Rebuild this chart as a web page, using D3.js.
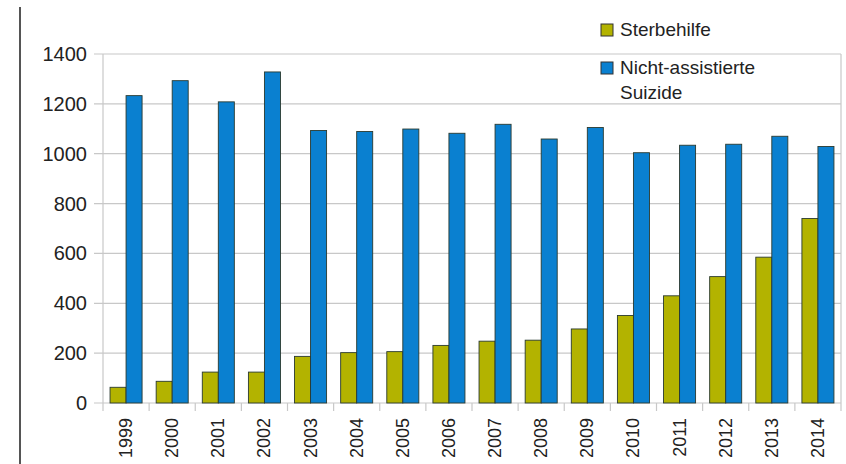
<!DOCTYPE html>
<html><head><meta charset="utf-8">
<script src="https://cdn.jsdelivr.net/npm/d3@7"></script>
<style>body{margin:0;background:#fff}svg{display:block}text{font-family:"Liberation Sans",Arial,sans-serif;fill:#222}</style>
</head><body>
<svg id="c" width="846" height="464"></svg>
<script>
const years = ["1999","2000","2001","2002","2003","2004","2005","2006","2007","2008","2009","2010","2011","2012","2013","2014"];
const sterbehilfe = [63,87,124,124,187,202,206,231,248,252,297,351,430,507,585,740];
const suizide = [1233,1293,1208,1328,1093,1089,1099,1082,1118,1059,1105,1004,1034,1038,1070,1029];
const yTicks = [0,200,400,600,800,1000,1200,1400];
const seriesNames = ["Sterbehilfe", "Nicht-assistierte\nSuizide"];
const colors = ["#b3b300", "#0a80d0"];

const svg = d3.select("#c");
const L = 103, R = 841, T = 54, B = 403;
const x = d3.scaleBand().domain(years).range([L, R]).paddingInner(0).paddingOuter(0);
const inner = d3.scaleBand().domain([0,1]).range([0, x.bandwidth()]).paddingInner(0).paddingOuter(0.44);
const y = d3.scaleLinear().domain([0, 1400]).range([B, T]);

// left vertical line
svg.append("line").attr("x1",20).attr("x2",20).attr("y1",7).attr("y2",464).attr("stroke","#555").attr("stroke-width",2);

// grid
svg.append("g").selectAll("line").data(yTicks).join("line")
  .attr("x1", L - 9).attr("x2", R).attr("y1", d => y(d)).attr("y2", d => y(d))
  .attr("stroke", "#c8c8c8").attr("stroke-width", 1.2);
// right border
svg.append("line").attr("x1",R).attr("x2",R).attr("y1",T).attr("y2",B).attr("stroke","#c8c8c8").attr("stroke-width",1.2);
// left axis line
svg.append("line").attr("x1",L).attr("x2",L).attr("y1",T).attr("y2",B+8).attr("stroke","#c8c8c8").attr("stroke-width",1.2);
// x tick marks at boundaries
svg.append("g").selectAll("line").data(years).join("line")
  .attr("x1", d => x(d) + x.bandwidth()).attr("x2", d => x(d) + x.bandwidth())
  .attr("y1", B).attr("y2", B + 8).attr("stroke", "#c8c8c8").attr("stroke-width", 1.2);

// y labels
svg.append("g").selectAll("text").data(yTicks).join("text")
  .attr("x", 87).attr("y", d => y(d) + 7).attr("text-anchor", "end")
  .attr("font-size", 20).text(d => d);

// bars
const series = [sterbehilfe, suizide];
series.forEach((vals, si) => {
  svg.append("g").selectAll("rect").data(vals).join("rect")
    .attr("x", (d,i) => x(years[i]) + inner(si))
    .attr("width", inner.bandwidth())
    .attr("y", d => y(d))
    .attr("height", d => B - y(d))
    .attr("fill", colors[si])
    .attr("stroke", "#2a3a30").attr("stroke-width", 0.9);
});

// x labels
svg.append("g").selectAll("text").data(years).join("text")
  .attr("transform", d => `translate(${x(d) + x.bandwidth()/2 + 6},418) rotate(-90)`)
  .attr("text-anchor", "end").attr("font-size", 18).text(d => d);

// legend
const lg = svg.append("g");
const legY = [24, 62];
seriesNames.forEach((name, i) => {
  lg.append("rect").attr("x", 601).attr("y", legY[i]).attr("width", 12).attr("height", 12)
    .attr("fill", colors[i]).attr("stroke", "#333").attr("stroke-width", 1);
  const lines = name.split("\n");
  lines.forEach((ln, j) => {
    lg.append("text").attr("x", 620).attr("y", legY[i] + 12 + j * 25)
      .attr("font-size", 19).text(ln);
  });
});
</script>
</body></html>
